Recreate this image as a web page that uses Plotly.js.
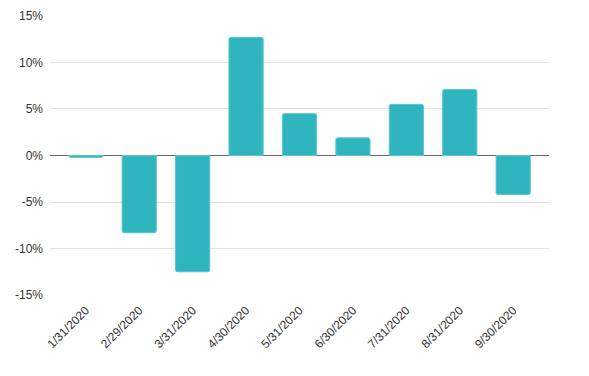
<!DOCTYPE html>
<html>
<head>
<meta charset="utf-8">
<script src="https://cdn.plot.ly/plotly-3.0.1.min.js"></script>
<style>html,body{margin:0;padding:0;background:#fff;}#chart{width:589px;height:376px;}</style>
</head>
<body>
<div id="chart"></div>
<script>
const categories = ["1/31/2020","2/29/2020","3/31/2020","4/30/2020","5/31/2020","6/30/2020","7/31/2020","8/31/2020","9/30/2020"];
const returns = [-0.2, -8.3, -12.5, 12.7, 4.5, 1.9, 5.5, 7.1, -4.2];
const yTickVals = [-15, -10, -5, 0, 5, 10, 15];
const yTickText = ["-15%", "-10%", "-5%", "0%", "5%", "10%", "15%"];

Plotly.newPlot("chart", [{
  type: "bar",
  x: categories,
  y: returns,
  marker: {color: "#2fb5bd", line: {color: "#5cc6cd", width: 1}, cornerradius: 2},
  hoverinfo: "x+y"
}], {
  width: 589, height: 376,
  margin: {l: 50, r: 40, t: 15, b: 80, pad: 0},
  paper_bgcolor: "#fff", plot_bgcolor: "#fff",
  bargap: 0.36,
  showlegend: false,
  font: {family: "Liberation Sans, Arial, sans-serif", size: 12, color: "#333"},
  xaxis: {type: "category", range: [-0.67, 8.67], tickangle: -45, showgrid: false, zeroline: false, showline: false, ticks: "", ticklabelstandoff: 4, tickfont: {size: 12, color: "#333"}},
  yaxis: {range: [-15.1, 15.1], tickvals: yTickVals, ticktext: yTickText, showgrid: true, gridcolor: "#e2e2e2", gridwidth: 1, zeroline: true, zerolinecolor: "#666", zerolinewidth: 1, showline: false, ticks: "", ticklabelstandoff: 6, tickfont: {size: 12, color: "#333"}}
}, {displayModeBar: false, staticPlot: true});
</script>
</body>
</html>
